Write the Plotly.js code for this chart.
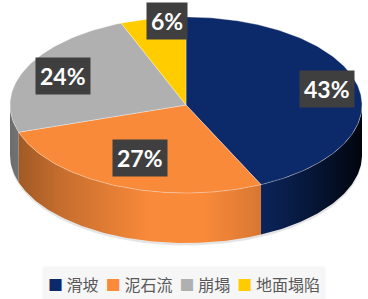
<!DOCTYPE html>
<html><head><meta charset="utf-8">
<script src="https://cdn.plot.ly/plotly-3.0.1.min.js"></script>
<style>html,body{margin:0;padding:0;background:#fff;}#chart{width:368px;height:299px;}</style>
</head><body><div id="chart"></div>
<script>
// ---- data ----
const categories = ['滑坡', '泥石流', '崩塌', '地面塌陷'];
const values = [43, 27, 24, 6];

// ---- styles / geometry ----
const sliceColors = ['#0c2a6a', '#f98a3a', '#b0b0b0', '#ffcc00'];
const labelR = [0.82, 0.66, 0.77, 0.97];
const labelXShift = [0, 0, 0, 13];
const cx = 186, cy = 105, rx = 176, ry = 88, depth = 50;
const shadeStops = [[0, 0.62], [0.15, 0.8], [0.4, 1.0], [0.55, 1.0], [0.7, 0.88], [0.85, 0.55], [1, 0.12]];

function hexToRgb(h){h=h.replace('#','');return [0,2,4].map(i=>parseInt(h.substr(i,2),16));}
function shade(hex,f){const c=hexToRgb(hex).map(v=>Math.max(0,Math.min(255,Math.round(v*f))));return 'rgb('+c.join(',')+')';}
function px(t){return cx + rx*Math.sin(t*Math.PI/180);}
function py(t){return cy - ry*Math.cos(t*Math.PI/180);}
function arc(a,b,dy){const xs=[],ys=[];const n=Math.max(2,Math.ceil(Math.abs(b-a)));for(let i=0;i<=n;i++){const t=a+(b-a)*i/n;xs.push(px(t));ys.push(py(t)+dy);}return [xs,ys];}

const total = values.reduce((s,v)=>s+v,0);
const starts=[], ends=[];
let acc=0;
values.forEach(v=>{starts.push(acc/total*360);acc+=v;ends.push(acc/total*360);});

const traces = [];
// soft shadow under the cylinder
{
  const [xs,ys]=arc(90,270,depth+2.5);
  traces.push({type:'scatter',x:xs,y:ys,fill:'toself',mode:'lines',line:{width:0},fillcolor:'rgba(0,0,0,0.10)',hoverinfo:'skip',showlegend:false});
}
// side walls
values.forEach((v,i)=>{
  const a=Math.max(starts[i],90), b=Math.min(ends[i],270);
  if(b<=a) return;
  const [tx,ty]=arc(a,b,0);
  const [bx,by]=arc(b,a,depth);
  const cs = shadeStops.map(s=>[s[0], shade(sliceColors[i], s[1])]);
  traces.push({type:'scatter',x:tx.concat(bx),y:ty.concat(by),fill:'toself',mode:'lines',
    line:{width:0},fillcolor:sliceColors[i],
    fillgradient:{type:'horizontal',colorscale:cs,start:cx-rx,stop:cx+rx},
    hoverinfo:'skip',showlegend:false});
});
// top faces
values.forEach((v,i)=>{
  const [ax,ay]=arc(starts[i],ends[i],0);
  traces.push({type:'scatter',x:[cx].concat(ax,[cx]),y:[cy].concat(ay,[cy]),fill:'toself',mode:'lines',
    line:{width:0.6,color:'rgba(255,255,255,0.55)'},fillcolor:sliceColors[i],
    name:categories[i],hoverinfo:'name',showlegend:false});
});

const annotations = values.map((v,i)=>{
  const mid=(starts[i]+ends[i])/2;
  return {x:cx+(px(mid)-cx)*labelR[i], y:cy+(py(mid)-cy)*labelR[i], xref:'x', yref:'y',
    text:'<b>'+Math.round(v/total*100)+'%</b>', showarrow:false, xshift:labelXShift[i],
    font:{family:'Lato, Open Sans, sans-serif',size:23,color:'#ffffff'},
    bgcolor:'#3f3f3f', borderpad:4};
});
// legend row
const legendText = categories.map((c,i)=>'<span style="color:'+sliceColors[i]+';font-size:15px">■</span> '+c).join('  ');
annotations.push({x:0.5,y:284,xref:'paper',yref:'y',text:legendText,showarrow:false,
  font:{family:'Noto Sans CJK SC, sans-serif',size:16,color:'#595959'},bgcolor:'#f6f6f6',borderpad:5});

const layout = {
  width:368, height:299, margin:{l:0,r:0,t:0,b:0},
  paper_bgcolor:'#ffffff', plot_bgcolor:'#ffffff', showlegend:false,
  xaxis:{range:[0,368],visible:false,fixedrange:true},
  yaxis:{range:[299,0],visible:false,fixedrange:true},
  annotations:annotations
};
Plotly.newPlot('chart', traces, layout, {displayModeBar:false, staticPlot:true});
</script></body></html>
